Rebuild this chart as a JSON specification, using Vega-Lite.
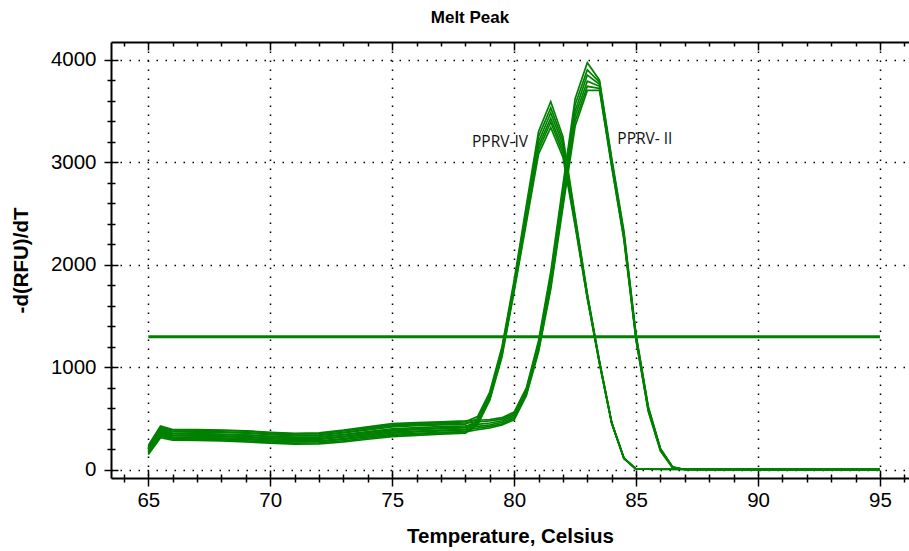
{
"$schema":"https://vega.github.io/schema/vega-lite/v6.json",
"width":798,"height":436,"autosize":"none",
"padding":{"left":111,"top":42,"right":0,"bottom":73},
"background":"white",
"config":{"view":{"stroke":null}},
"title":{"text":"Melt Peak","font":"Liberation Sans","fontSize":17,"fontWeight":"bold","color":"#000","anchor":"middle","dx":-40,"offset":14},
"datasets":{
"curves":[
{"c":"A1","t":65,"v":230},{"c":"A1","t":65.5,"v":420},{"c":"A1","t":66,"v":390},{"c":"A1","t":67,"v":388},{"c":"A1","t":68,"v":385},{"c":"A1","t":69,"v":378},{"c":"A1","t":70,"v":362},{"c":"A1","t":71,"v":352},{"c":"A1","t":72,"v":355},{"c":"A1","t":73,"v":380},{"c":"A1","t":74,"v":410},{"c":"A1","t":75,"v":440},{"c":"A1","t":76,"v":452},{"c":"A1","t":77,"v":462},{"c":"A1","t":78,"v":470},{"c":"A1","t":78.5,"v":520},{"c":"A1","t":79,"v":760},{"c":"A1","t":79.5,"v":1200},{"c":"A1","t":80,"v":1850},{"c":"A1","t":80.5,"v":2580},{"c":"A1","t":81,"v":3300},{"c":"A1","t":81.5,"v":3590},{"c":"A1","t":82,"v":3250},{"c":"A1","t":82.5,"v":2480},{"c":"A1","t":83,"v":1720},{"c":"A1","t":83.5,"v":1060},{"c":"A1","t":84,"v":465},{"c":"A1","t":84.5,"v":118},{"c":"A1","t":85,"v":8},{"c":"A1","t":95,"v":3},
{"c":"A2","t":65,"v":210},{"c":"A2","t":65.5,"v":400},{"c":"A2","t":66,"v":372},{"c":"A2","t":67,"v":370},{"c":"A2","t":68,"v":366},{"c":"A2","t":69,"v":358},{"c":"A2","t":70,"v":345},{"c":"A2","t":71,"v":335},{"c":"A2","t":72,"v":338},{"c":"A2","t":73,"v":362},{"c":"A2","t":74,"v":390},{"c":"A2","t":75,"v":420},{"c":"A2","t":76,"v":432},{"c":"A2","t":77,"v":440},{"c":"A2","t":78,"v":448},{"c":"A2","t":78.5,"v":500},{"c":"A2","t":79,"v":740},{"c":"A2","t":79.5,"v":1180},{"c":"A2","t":80,"v":1820},{"c":"A2","t":80.5,"v":2540},{"c":"A2","t":81,"v":3250},{"c":"A2","t":81.5,"v":3530},{"c":"A2","t":82,"v":3210},{"c":"A2","t":82.5,"v":2460},{"c":"A2","t":83,"v":1710},{"c":"A2","t":83.5,"v":1055},{"c":"A2","t":84,"v":462},{"c":"A2","t":84.5,"v":116},{"c":"A2","t":85,"v":8},{"c":"A2","t":95,"v":3},
{"c":"A3","t":65,"v":190},{"c":"A3","t":65.5,"v":382},{"c":"A3","t":66,"v":352},{"c":"A3","t":67,"v":350},{"c":"A3","t":68,"v":346},{"c":"A3","t":69,"v":338},{"c":"A3","t":70,"v":326},{"c":"A3","t":71,"v":316},{"c":"A3","t":72,"v":320},{"c":"A3","t":73,"v":342},{"c":"A3","t":74,"v":366},{"c":"A3","t":75,"v":392},{"c":"A3","t":76,"v":402},{"c":"A3","t":77,"v":410},{"c":"A3","t":78,"v":418},{"c":"A3","t":78.5,"v":480},{"c":"A3","t":79,"v":720},{"c":"A3","t":79.5,"v":1160},{"c":"A3","t":80,"v":1800},{"c":"A3","t":80.5,"v":2500},{"c":"A3","t":81,"v":3200},{"c":"A3","t":81.5,"v":3480},{"c":"A3","t":82,"v":3170},{"c":"A3","t":82.5,"v":2440},{"c":"A3","t":83,"v":1700},{"c":"A3","t":83.5,"v":1050},{"c":"A3","t":84,"v":460},{"c":"A3","t":84.5,"v":115},{"c":"A3","t":85,"v":8},{"c":"A3","t":95,"v":3},
{"c":"A4","t":65,"v":175},{"c":"A4","t":65.5,"v":362},{"c":"A4","t":66,"v":333},{"c":"A4","t":67,"v":330},{"c":"A4","t":68,"v":326},{"c":"A4","t":69,"v":318},{"c":"A4","t":70,"v":305},{"c":"A4","t":71,"v":296},{"c":"A4","t":72,"v":298},{"c":"A4","t":73,"v":320},{"c":"A4","t":74,"v":345},{"c":"A4","t":75,"v":370},{"c":"A4","t":76,"v":380},{"c":"A4","t":77,"v":388},{"c":"A4","t":78,"v":395},{"c":"A4","t":78.5,"v":465},{"c":"A4","t":79,"v":700},{"c":"A4","t":79.5,"v":1140},{"c":"A4","t":80,"v":1780},{"c":"A4","t":80.5,"v":2470},{"c":"A4","t":81,"v":3160},{"c":"A4","t":81.5,"v":3430},{"c":"A4","t":82,"v":3130},{"c":"A4","t":82.5,"v":2420},{"c":"A4","t":83,"v":1690},{"c":"A4","t":83.5,"v":1045},{"c":"A4","t":84,"v":458},{"c":"A4","t":84.5,"v":114},{"c":"A4","t":85,"v":8},{"c":"A4","t":95,"v":3},
{"c":"A5","t":65,"v":160},{"c":"A5","t":65.5,"v":340},{"c":"A5","t":66,"v":310},{"c":"A5","t":67,"v":308},{"c":"A5","t":68,"v":304},{"c":"A5","t":69,"v":296},{"c":"A5","t":70,"v":284},{"c":"A5","t":71,"v":275},{"c":"A5","t":72,"v":276},{"c":"A5","t":73,"v":298},{"c":"A5","t":74,"v":322},{"c":"A5","t":75,"v":348},{"c":"A5","t":76,"v":358},{"c":"A5","t":77,"v":366},{"c":"A5","t":78,"v":374},{"c":"A5","t":78.5,"v":450},{"c":"A5","t":79,"v":690},{"c":"A5","t":79.5,"v":1120},{"c":"A5","t":80,"v":1760},{"c":"A5","t":80.5,"v":2440},{"c":"A5","t":81,"v":3120},{"c":"A5","t":81.5,"v":3390},{"c":"A5","t":82,"v":3090},{"c":"A5","t":82.5,"v":2400},{"c":"A5","t":83,"v":1680},{"c":"A5","t":83.5,"v":1040},{"c":"A5","t":84,"v":456},{"c":"A5","t":84.5,"v":113},{"c":"A5","t":85,"v":8},{"c":"A5","t":95,"v":3},
{"c":"A6","t":65,"v":150},{"c":"A6","t":65.5,"v":315},{"c":"A6","t":66,"v":290},{"c":"A6","t":67,"v":288},{"c":"A6","t":68,"v":283},{"c":"A6","t":69,"v":274},{"c":"A6","t":70,"v":262},{"c":"A6","t":71,"v":252},{"c":"A6","t":72,"v":254},{"c":"A6","t":73,"v":274},{"c":"A6","t":74,"v":300},{"c":"A6","t":75,"v":325},{"c":"A6","t":76,"v":338},{"c":"A6","t":77,"v":350},{"c":"A6","t":78,"v":360},{"c":"A6","t":78.5,"v":440},{"c":"A6","t":79,"v":680},{"c":"A6","t":79.5,"v":1100},{"c":"A6","t":80,"v":1740},{"c":"A6","t":80.5,"v":2410},{"c":"A6","t":81,"v":3080},{"c":"A6","t":81.5,"v":3340},{"c":"A6","t":82,"v":3050},{"c":"A6","t":82.5,"v":2380},{"c":"A6","t":83,"v":1670},{"c":"A6","t":83.5,"v":1035},{"c":"A6","t":84,"v":454},{"c":"A6","t":84.5,"v":112},{"c":"A6","t":85,"v":8},{"c":"A6","t":95,"v":3},
{"c":"B1","t":65,"v":240},{"c":"B1","t":65.5,"v":430},{"c":"B1","t":66,"v":395},{"c":"B1","t":67,"v":393},{"c":"B1","t":68,"v":390},{"c":"B1","t":69,"v":382},{"c":"B1","t":70,"v":368},{"c":"B1","t":71,"v":358},{"c":"B1","t":72,"v":362},{"c":"B1","t":73,"v":388},{"c":"B1","t":74,"v":420},{"c":"B1","t":75,"v":452},{"c":"B1","t":76,"v":462},{"c":"B1","t":77,"v":470},{"c":"B1","t":78,"v":478},{"c":"B1","t":78.5,"v":485},{"c":"B1","t":79,"v":492},{"c":"B1","t":79.5,"v":510},{"c":"B1","t":80,"v":565},{"c":"B1","t":80.5,"v":800},{"c":"B1","t":81,"v":1260},{"c":"B1","t":81.5,"v":1930},{"c":"B1","t":82,"v":2780},{"c":"B1","t":82.5,"v":3620},{"c":"B1","t":83,"v":3970},{"c":"B1","t":83.5,"v":3800},{"c":"B1","t":84,"v":3040},{"c":"B1","t":84.5,"v":2330},{"c":"B1","t":85,"v":1320},{"c":"B1","t":85.5,"v":620},{"c":"B1","t":86,"v":210},{"c":"B1","t":86.5,"v":30},{"c":"B1","t":87,"v":5},{"c":"B1","t":95,"v":3},
{"c":"B2","t":65,"v":220},{"c":"B2","t":65.5,"v":410},{"c":"B2","t":66,"v":378},{"c":"B2","t":67,"v":376},{"c":"B2","t":68,"v":372},{"c":"B2","t":69,"v":364},{"c":"B2","t":70,"v":350},{"c":"B2","t":71,"v":340},{"c":"B2","t":72,"v":343},{"c":"B2","t":73,"v":368},{"c":"B2","t":74,"v":398},{"c":"B2","t":75,"v":430},{"c":"B2","t":76,"v":442},{"c":"B2","t":77,"v":450},{"c":"B2","t":78,"v":458},{"c":"B2","t":78.5,"v":468},{"c":"B2","t":79,"v":478},{"c":"B2","t":79.5,"v":496},{"c":"B2","t":80,"v":550},{"c":"B2","t":80.5,"v":785},{"c":"B2","t":81,"v":1235},{"c":"B2","t":81.5,"v":1890},{"c":"B2","t":82,"v":2730},{"c":"B2","t":82.5,"v":3560},{"c":"B2","t":83,"v":3900},{"c":"B2","t":83.5,"v":3780},{"c":"B2","t":84,"v":3020},{"c":"B2","t":84.5,"v":2310},{"c":"B2","t":85,"v":1305},{"c":"B2","t":85.5,"v":610},{"c":"B2","t":86,"v":205},{"c":"B2","t":86.5,"v":28},{"c":"B2","t":87,"v":5},{"c":"B2","t":95,"v":3},
{"c":"B3","t":65,"v":200},{"c":"B3","t":65.5,"v":390},{"c":"B3","t":66,"v":358},{"c":"B3","t":67,"v":355},{"c":"B3","t":68,"v":350},{"c":"B3","t":69,"v":342},{"c":"B3","t":70,"v":330},{"c":"B3","t":71,"v":320},{"c":"B3","t":72,"v":323},{"c":"B3","t":73,"v":346},{"c":"B3","t":74,"v":374},{"c":"B3","t":75,"v":402},{"c":"B3","t":76,"v":414},{"c":"B3","t":77,"v":422},{"c":"B3","t":78,"v":430},{"c":"B3","t":78.5,"v":445},{"c":"B3","t":79,"v":458},{"c":"B3","t":79.5,"v":480},{"c":"B3","t":80,"v":535},{"c":"B3","t":80.5,"v":770},{"c":"B3","t":81,"v":1210},{"c":"B3","t":81.5,"v":1850},{"c":"B3","t":82,"v":2680},{"c":"B3","t":82.5,"v":3500},{"c":"B3","t":83,"v":3850},{"c":"B3","t":83.5,"v":3760},{"c":"B3","t":84,"v":3000},{"c":"B3","t":84.5,"v":2290},{"c":"B3","t":85,"v":1290},{"c":"B3","t":85.5,"v":600},{"c":"B3","t":86,"v":200},{"c":"B3","t":86.5,"v":26},{"c":"B3","t":87,"v":5},{"c":"B3","t":95,"v":3},
{"c":"B4","t":65,"v":185},{"c":"B4","t":65.5,"v":372},{"c":"B4","t":66,"v":340},{"c":"B4","t":67,"v":338},{"c":"B4","t":68,"v":334},{"c":"B4","t":69,"v":326},{"c":"B4","t":70,"v":313},{"c":"B4","t":71,"v":303},{"c":"B4","t":72,"v":305},{"c":"B4","t":73,"v":328},{"c":"B4","t":74,"v":354},{"c":"B4","t":75,"v":382},{"c":"B4","t":76,"v":393},{"c":"B4","t":77,"v":402},{"c":"B4","t":78,"v":410},{"c":"B4","t":78.5,"v":425},{"c":"B4","t":79,"v":440},{"c":"B4","t":79.5,"v":465},{"c":"B4","t":80,"v":520},{"c":"B4","t":80.5,"v":755},{"c":"B4","t":81,"v":1190},{"c":"B4","t":81.5,"v":1820},{"c":"B4","t":82,"v":2640},{"c":"B4","t":82.5,"v":3450},{"c":"B4","t":83,"v":3790},{"c":"B4","t":83.5,"v":3740},{"c":"B4","t":84,"v":2985},{"c":"B4","t":84.5,"v":2275},{"c":"B4","t":85,"v":1280},{"c":"B4","t":85.5,"v":590},{"c":"B4","t":86,"v":195},{"c":"B4","t":86.5,"v":24},{"c":"B4","t":87,"v":5},{"c":"B4","t":95,"v":3},
{"c":"B5","t":65,"v":170},{"c":"B5","t":65.5,"v":352},{"c":"B5","t":66,"v":320},{"c":"B5","t":67,"v":318},{"c":"B5","t":68,"v":314},{"c":"B5","t":69,"v":306},{"c":"B5","t":70,"v":293},{"c":"B5","t":71,"v":283},{"c":"B5","t":72,"v":285},{"c":"B5","t":73,"v":306},{"c":"B5","t":74,"v":332},{"c":"B5","t":75,"v":360},{"c":"B5","t":76,"v":372},{"c":"B5","t":77,"v":382},{"c":"B5","t":78,"v":390},{"c":"B5","t":78.5,"v":408},{"c":"B5","t":79,"v":425},{"c":"B5","t":79.5,"v":450},{"c":"B5","t":80,"v":505},{"c":"B5","t":80.5,"v":740},{"c":"B5","t":81,"v":1170},{"c":"B5","t":81.5,"v":1790},{"c":"B5","t":82,"v":2600},{"c":"B5","t":82.5,"v":3400},{"c":"B5","t":83,"v":3740},{"c":"B5","t":83.5,"v":3720},{"c":"B5","t":84,"v":2970},{"c":"B5","t":84.5,"v":2260},{"c":"B5","t":85,"v":1270},{"c":"B5","t":85.5,"v":580},{"c":"B5","t":86,"v":190},{"c":"B5","t":86.5,"v":22},{"c":"B5","t":87,"v":5},{"c":"B5","t":95,"v":3},
{"c":"B6","t":65,"v":155},{"c":"B6","t":65.5,"v":330},{"c":"B6","t":66,"v":300},{"c":"B6","t":67,"v":298},{"c":"B6","t":68,"v":294},{"c":"B6","t":69,"v":285},{"c":"B6","t":70,"v":272},{"c":"B6","t":71,"v":262},{"c":"B6","t":72,"v":264},{"c":"B6","t":73,"v":285},{"c":"B6","t":74,"v":310},{"c":"B6","t":75,"v":338},{"c":"B6","t":76,"v":350},{"c":"B6","t":77,"v":362},{"c":"B6","t":78,"v":372},{"c":"B6","t":78.5,"v":392},{"c":"B6","t":79,"v":410},{"c":"B6","t":79.5,"v":438},{"c":"B6","t":80,"v":490},{"c":"B6","t":80.5,"v":725},{"c":"B6","t":81,"v":1150},{"c":"B6","t":81.5,"v":1760},{"c":"B6","t":82,"v":2560},{"c":"B6","t":82.5,"v":3350},{"c":"B6","t":83,"v":3700},{"c":"B6","t":83.5,"v":3700},{"c":"B6","t":84,"v":2955},{"c":"B6","t":84.5,"v":2245},{"c":"B6","t":85,"v":1260},{"c":"B6","t":85.5,"v":570},{"c":"B6","t":86,"v":185},{"c":"B6","t":86.5,"v":20},{"c":"B6","t":87,"v":5},{"c":"B6","t":95,"v":3}
],
"thr":[{"t":65,"v":1300},{"t":95,"v":1300}],
"notes":[{"label":"PPRV-IV","t":79.42,"v":3197},{"label":"PPRV- II","t":85.36,"v":3226}]
},
"resolve":{"axis":{"x":"independent","y":"independent"}},
"layer":[
{"data":{"name":"curves"},
 "mark":{"type":"line","color":"#008000","strokeWidth":1.7,"clip":true},
 "encoding":{
  "x":{"field":"t","type":"quantitative","scale":{"domain":[63.47,96.19],"nice":false,"zero":false},
   "axis":{"orient":"bottom","values":[64,65,66,67,68,69,70,71,72,73,74,75,76,77,78,79,80,81,82,83,84,85,86,87,88,89,90,91,92,93,94,95,96],
    "labelExpr":"datum.value % 5 === 0 ? datum.label : ''","format":"d",
    "tickSize":{"condition":{"test":"datum.value % 5 === 0","value":8},"value":4},
    "tickColor":"#000","tickWidth":1.5,"domainColor":"#000","domainWidth":2,
    "grid":true,"gridColor":"#000","gridWidth":1.5,"gridDash":[1.5,7.5],
    "gridOpacity":{"condition":{"test":"datum.value % 5 === 0 && datum.value >= 65 && datum.value <= 95","value":1},"value":0},
    "labelFont":"Liberation Sans","labelFontSize":20.5,"labelColor":"#000","labelPadding":4,"labelFlush":false,"labelOverlap":false,
    "title":"Temperature, Celsius","titleFont":"Liberation Sans","titleFontSize":20.5,"titleFontWeight":"bold","titleColor":"#000","titlePadding":16}},
  "y":{"field":"v","type":"quantitative","scale":{"domain":[-78,4172],"nice":false,"zero":false},
   "axis":{"orient":"left","values":[0,200,400,600,800,1000,1200,1400,1600,1800,2000,2200,2400,2600,2800,3000,3200,3400,3600,3800,4000],
    "labelExpr":"datum.value % 1000 === 0 ? datum.label : ''","format":"d",
    "tickSize":{"condition":{"test":"datum.value % 1000 === 0","value":7},"value":4},
    "tickColor":"#000","tickWidth":1.5,"domainColor":"#000","domainWidth":2,
    "grid":true,"gridColor":"#000","gridWidth":1.5,"gridDash":[1.5,7.5],
    "gridOpacity":{"condition":{"test":"datum.value % 1000 === 0","value":1},"value":0},
    "labelFont":"Liberation Sans","labelFontSize":20.5,"labelColor":"#000","labelPadding":8,"labelFlush":false,"labelOverlap":false,
    "title":"-d(RFU)/dT","titleFont":"Liberation Sans","titleFontSize":20.5,"titleFontWeight":"bold","titleColor":"#000","titlePadding":19}},
  "detail":{"field":"c","type":"nominal"}
 }},
{"data":{"name":"thr"},
 "mark":{"type":"line","color":"#008000","strokeWidth":3},
 "encoding":{
  "x":{"field":"t","type":"quantitative",
   "axis":{"orient":"bottom","values":[64,65,66,67,68,69,70,71,72,73,74,75,76,77,78,79,80,81,82,83,84,85,86,87,88,89,90,91,92,93,94,95,96],
    "domain":false,"labels":false,"grid":false,"title":null,"tickColor":"#000","tickWidth":1.5,
    "tickSize":{"condition":{"test":"datum.value % 5 === 0","value":-8},"value":-4}}},
  "y":{"field":"v","type":"quantitative",
   "axis":{"orient":"left","values":[0,200,400,600,800,1000,1200,1400,1600,1800,2000,2200,2400,2600,2800,3000,3200,3400,3600,3800,4000],
    "domain":false,"labels":false,"grid":false,"title":null,"tickColor":"#000","tickWidth":1.5,
    "tickSize":{"condition":{"test":"datum.value % 1000 === 0","value":-7},"value":-4}}}
 }},
{"data":{"name":"notes"},
 "mark":{"type":"text","font":"Open Sans","fontSize":15.5,"color":"#111","align":"center","baseline":"middle"},
 "encoding":{
  "x":{"field":"t","type":"quantitative",
   "axis":{"orient":"top","values":[64,65,66,67,68,69,70,71,72,73,74,75,76,77,78,79,80,81,82,83,84,85,86,87,88,89,90,91,92,93,94,95,96],
    "domain":true,"domainColor":"#000","domainWidth":2,"labels":false,"grid":false,"title":null,"tickColor":"#000","tickWidth":1.5,
    "tickSize":{"condition":{"test":"datum.value % 5 === 0","value":-8},"value":-4}}},
  "y":{"field":"v","type":"quantitative","axis":null},
  "text":{"field":"label"}
 }}
]
}
